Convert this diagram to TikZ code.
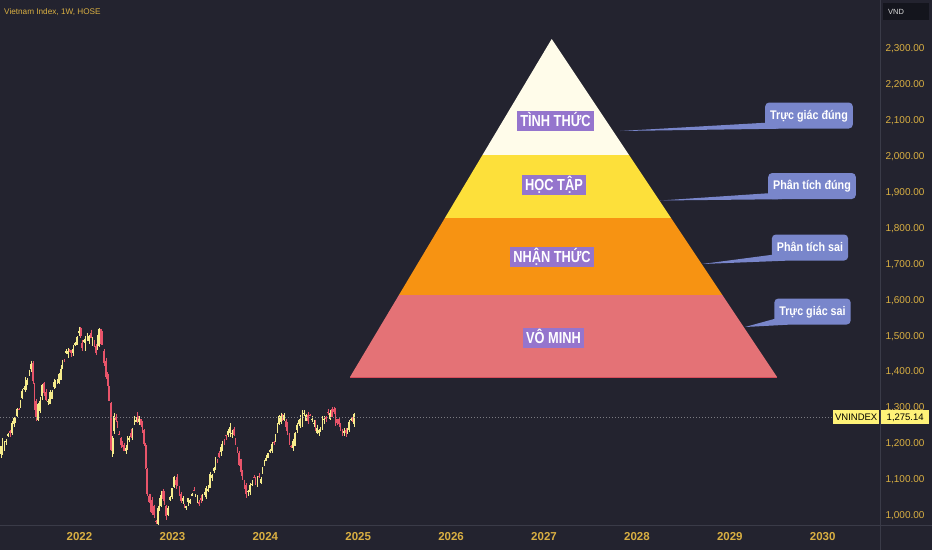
\documentclass[tikz,border=0pt]{standalone}
\usepackage{fontspec}
\setmainfont{Liberation Sans}
\newfontfamily\narrowfont[FakeStretch=0.8]{Liberation Sans}
\newfontfamily\notefont[FakeStretch=0.86]{Liberation Sans}
\usetikzlibrary{calc}

\definecolor{chartbg}{RGB}{35,35,47}
\definecolor{axisline}{RGB}{58,59,72}
\definecolor{axistext}{RGB}{218,176,66}
\definecolor{candleup}{RGB}{246,236,140}
\definecolor{candledn}{RGB}{232,84,106}
\definecolor{levelone}{RGB}{255,252,234}
\definecolor{leveltwo}{RGB}{253,224,58}
\definecolor{levelthree}{RGB}{247,147,18}
\definecolor{levelfour}{RGB}{228,114,118}
\definecolor{baseedge}{RGB}{214,78,92}
\definecolor{tagpurple}{RGB}{149,117,205}
\definecolor{noteblue}{RGB}{121,134,203}
\definecolor{lastprice}{RGB}{255,242,120}
\definecolor{vndbg}{RGB}{20,21,29}

\tikzset{
  pricetick/.style={text=axistext, font=\fontsize{10}{12}\selectfont},
  yeartick/.style={text=axistext, font=\bfseries\fontsize{11.5}{13}\selectfont},
  leveltag/.style={fill=tagpurple, text=white, font=\narrowfont\bfseries\fontsize{16}{18}\selectfont,
    inner xsep=3pt, inner ysep=1.5pt, text height=13.5pt, text depth=3pt},
  notebox/.style={fill=noteblue, text=white, rounded corners=4pt, font=\notefont\bfseries\fontsize{12.5}{14}\selectfont,
    inner xsep=5pt, minimum height=26pt, text height=9.5pt, text depth=2.5pt},
  pricetag/.style={fill=lastprice, text=black, font=\fontsize{9.5}{10}\selectfont,
    inner xsep=2pt, minimum height=14pt, text height=7pt, text depth=1pt},
  notetail/.style={fill=noteblue}
}

\begin{document}
\begin{tikzpicture}[x=1pt,y=-1pt]
  \fill[chartbg] (0,0) rectangle (932,550);
  \useasboundingbox (0,0) rectangle (932,550);
  \draw[axisline] (880,0) -- (880,550);
  \draw[axisline] (0,525) -- (932,525);

  \node[anchor=west, text=axistext, font=\fontsize{8.2}{10}\selectfont, inner sep=0pt] (title) at (4,12.5) {Vietnam Index, 1W, HOSE};
  \node[anchor=north west, fill=vndbg, text=white!85!black, font=\fontsize{7.5}{9}\selectfont,
    minimum height=17pt, text width=36pt, inner xsep=5pt, align=left] (vnd) at (883,3) {VND};

  % price axis and years
  \foreach \i in {0,...,13}{
    \pgfmathtruncatemacro\th{(2300-100*\i)/1000}
    \pgfmathtruncatemacro\hd{(23-\i)-10*\th}
    \node[pricetick] (tick\i) at (905,{49+35.9*\i}) {\th,\hd00.00};
  }
  \foreach \yr [count=\i from 0] in {2022,...,2030}
    \node[yeartick] (year\yr) at ({79.5+92.9*\i},537) {\yr};

  % weekly candles
  \begin{scope}
    \clip (0,0) rectangle (879,525);
    \pgfmathsetseed{42}
    \foreach \xb/\yb [remember=\xb as \xa (initially 0), remember=\yb as \ya (initially 453)] in
      {7/437, 13/427, 23/393, 32/368, 37/420, 43/387, 47/403, 53/390, 60/377, 67/350, 72/356,
       80/330, 83/347, 90/337, 97/350, 100/330, 103/347, 107/377, 110/403, 112/450, 115/417,
       120/437, 125/453, 130/437, 137/417, 140/417, 145/443, 148/493, 153/510, 157/523,
       162/490, 167/513, 175/477, 182/497, 187/507, 193/493, 200/503, 207/490, 213/473,
       220/453, 227/433, 233/430, 240/463, 247/493, 253/480, 260/480, 267/457, 273/443,
       280/420, 285/417, 292/450, 298/423, 305/417, 313/420, 318/433, 325/417, 333/413,
       338/420, 345/433, 350/423, 355/418}{
      \pgfmathtruncatemacro\nc{max(1,round((\xb-\xa)/1.78))}
      \foreach \k in {1,...,\nc}{
        \pgfmathsetmacro\xo{\xa+(\xb-\xa)*(\k-0.5)/\nc}
        \pgfmathsetmacro\yo{\ya+(\yb-\ya)*(\k-1)/\nc+5*rand}
        \pgfmathsetmacro\yc{\ya+(\yb-\ya)*\k/\nc+5*rand}
        \pgfmathsetmacro\yh{min(\yo,\yc)-4*rnd}
        \pgfmathsetmacro\yl{max(\yo,\yc)+4*rnd}
        \pgfmathtruncatemacro\up{\yc<\yo}
        \ifnum\up=1 \def\cc{candleup}\else\def\cc{candledn}\fi
        \draw[\cc, line width=0.6pt] (\xo,\yh) -- (\xo,\yl);
        \fill[\cc] (\xo-0.8,\yo) rectangle (\xo+0.8,\yc);
      }
    }
  \end{scope}

  \node[pricetag, anchor=east] (vnlabel) at (879.5,417) {VNINDEX};
  \node[pricetag, anchor=west, minimum width=48pt] (vnprice) at (881,417) {1,275.14};
  \draw[white!40!chartbg, dash pattern=on 1pt off 2pt] (0,417) -- (vnlabel.west);

  % pyramid
  \coordinate (apex) at (551.7,39);
  \coordinate (baseleft) at (350,377);
  \coordinate (baseright) at (777,377);
  \begin{scope}
    \clip (apex) -- (baseleft) -- (baseright) -- cycle;
    \fill[levelone] (340,30) rectangle (790,155);
    \fill[leveltwo] (340,155) rectangle (790,218);
    \fill[levelthree] (340,218) rectangle (790,294.5);
    \fill[levelfour] (340,294.5) rectangle (790,378);
  \end{scope}
  \draw[baseedge, line width=1pt] (baseleft) -- (baseright);

  \node[leveltag] (tinhthuc) at (555.5,121) {TÌNH THỨC};
  \node[leveltag] (hoctap) at (554,185) {HỌC TẬP};
  \node[leveltag] (nhanthuc) at (552,257) {NHẬN THỨC};
  \node[leveltag] (vominh) at (553.5,338) {VÔ MINH};

  % notes with tails
  \node[notebox, minimum width=84pt] (trucdung) at (809,115.5) {Trực giác đúng};
  \node[notebox, minimum width=86pt] (phandung) at (812,186) {Phân tích đúng};
  \node[notebox, minimum width=74pt] (phansai) at (810,247.5) {Phân tích sai};
  \node[notebox, minimum width=73pt] (trucsai) at (812.5,311.5) {Trực giác sai};
  \coordinate (tipa) at (620,131);
  \coordinate (tipb) at (660,200.5);
  \coordinate (tipc) at (702,264);
  \coordinate (tipd) at (745,327);
  \foreach \tip/\note in {tipa/trucdung, tipb/phandung, tipc/phansai, tipd/trucsai}
    \fill[notetail] (\tip) -- ($(\note.south west)+(1,-6)$) -- ($(\note.south west)+(14,0)$) -- cycle;
\end{tikzpicture}
\end{document}
